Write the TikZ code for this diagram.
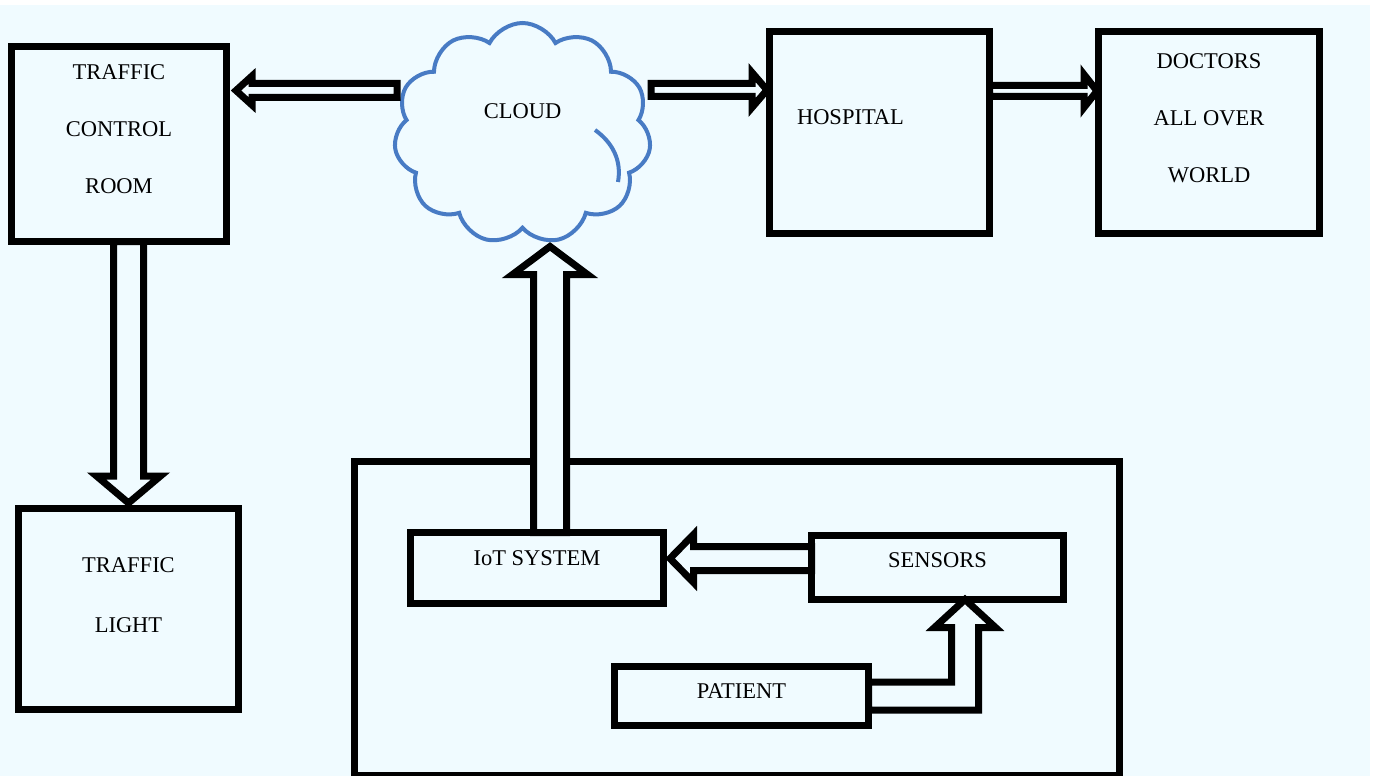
\documentclass[tikz,border=0pt]{standalone}
\usepackage{fontspec}
\setmainfont{Liberation Serif}
\usepackage{tikz}
\usetikzlibrary{shapes.symbols,positioning,calc}
\definecolor{bgcyan}{RGB}{240,251,255}
\definecolor{cloudblue}{RGB}{72,123,196}
% hollow block arrow: tail, tip, shaft half width, head half width, head length
\newcommand{\fatarrow}[5]{%
  \coordinate (fa-base) at ($(#2)!#5!(#1)$);
  \draw[hollow] ($(#1)!#3!90:(#2)$) -- ($(fa-base)!#3!90:(#2)$) -- ($(fa-base)!#4!90:(#2)$) -- (#2)
    -- ($(fa-base)!#4!-90:(#2)$) -- ($(fa-base)!#3!-90:(#2)$) -- ($(#1)!#3!-90:(#2)$) -- cycle;
}

\begin{document}
\begin{tikzpicture}[
        x=1pt, y=-1pt,
        box/.style={rectangle, draw=black, line width=7pt, fill=bgcyan, inner sep=0pt, outer sep=0pt, align=center, text height=15pt, font=\fontsize{22.5}{57}\selectfont},
        cloudy/.style={cloud, cloud puffs=11, cloud puff arc=125, aspect=1.16, draw=cloudblue, line width=4pt, fill=bgcyan, inner sep=0pt, outer sep=0pt, text height=15pt, font=\fontsize{22.5}{57}\selectfont},
        hollow/.style={draw=black, line width=7pt, fill=bgcyan, line join=miter}
    ]
        \useasboundingbox (0,0) rectangle (1377,776);
        \fill[white] (0,0) rectangle (1377,776);
        \fill[bgcyan] (0,5) rectangle (1370,776);

        % Boxes
        \node[box, minimum width=215pt, minimum height=195pt, text height=99pt, text depth=0pt] (tcr) at (119,144) {TRAFFIC\\CONTROL\\ROOM};
        \node[box, minimum width=220pt, minimum height=201pt, text height=46pt, text depth=0pt, below=267pt of tcr, xshift=9.5pt] (tl) {TRAFFIC\\[2.5pt]LIGHT};
        \node[cloudy, minimum width=257pt, minimum height=221pt, text depth=45pt] (cloud) at (522.5,133.5) {CLOUD};
        \node[box, minimum width=220pt, minimum height=202pt, text depth=31pt, text width=165pt, align=left] (hospital) at (879.5,132.5) {HOSPITAL};
        \node[box, minimum width=221pt, minimum height=201pt, text height=99pt, text depth=0pt, right=109pt of hospital] (doctors) {DOCTORS\\ALL OVER\\WORLD};
        \node[box, minimum width=765pt, minimum height=314pt] (system) at (737,618.5) {};
        \node[box, minimum width=253pt, minimum height=71pt, text depth=20pt] (iot) at (537,568) {IoT SYSTEM};
        \node[box, minimum width=252pt, minimum height=64pt, text depth=15pt] (sensors) at (937.5,567.5) {SENSORS};
        \node[box, minimum width=254pt, minimum height=59pt, text depth=10pt] (patient) at (741.5,696) {PATIENT};

        % inner fold of the cloud
        \draw[cloudblue, line width=4pt] (595,130) .. controls (612,142) and (622,160) .. (618,182);

        % Arrow ends
        \coordinate (cloud-l) at ($(cloud.center)+(-125.5,-43)$);
        \coordinate (cloud-r) at ($(cloud.center)+(128.5,-43.5)$);
        \coordinate (cloud-b) at ($(cloud.center)+(27.5,113)$);
        \coordinate (tcr-r) at ($(tcr.east)+(9.5,-53.5)$);
        \coordinate (tcr-b) at ($(tcr.south)+(9.5,0)$);
        \coordinate (tl-t) at ($(tl.north)+(0,-5.5)$);
        \coordinate (hospital-l) at ($(hospital.west)+(-2.5,-42.5)$);
        \coordinate (hospital-r) at ($(hospital.east)+(0,-41.5)$);
        \coordinate (doctors-l) at ($(doctors.west)+(-1.5,-41.5)$);
        \coordinate (iot-t) at ($(iot.north)+(13,0)$);
        \coordinate (iot-r) at ($(iot.east)+(6.5,-9.5)$);
        \coordinate (sensors-l) at ($(sensors.west)+(0,-9)$);

        % Arrows
        \fatarrow{cloud-l}{tcr-r}{7pt}{14.5pt}{16pt}
        \fatarrow{cloud-r}{hospital-l}{6.5pt}{17.5pt}{15pt}
        \fatarrow{hospital-r}{doctors-l}{5.5pt}{16.5pt}{13pt}
        \fatarrow{tcr-b}{tl-t}{15pt}{32pt}{27pt}
        \fatarrow{iot-t}{cloud-b}{16.5pt}{37.5pt}{28pt}
        \fatarrow{sensors-l}{iot-r}{12pt}{24pt}{23.5pt}
        \draw[hollow] ($(patient.east)+(0,-14)$) -| ($(sensors.south)+(14,28)$) -- ++(-17,0) -- ($(sensors.south)+(27.5,0)$)
            -- ($(sensors.south)+(58,28)$) -- ++(-17,0) |- ($(patient.east)+(0,14)$) -- cycle;

    \end{tikzpicture}
\end{document}
